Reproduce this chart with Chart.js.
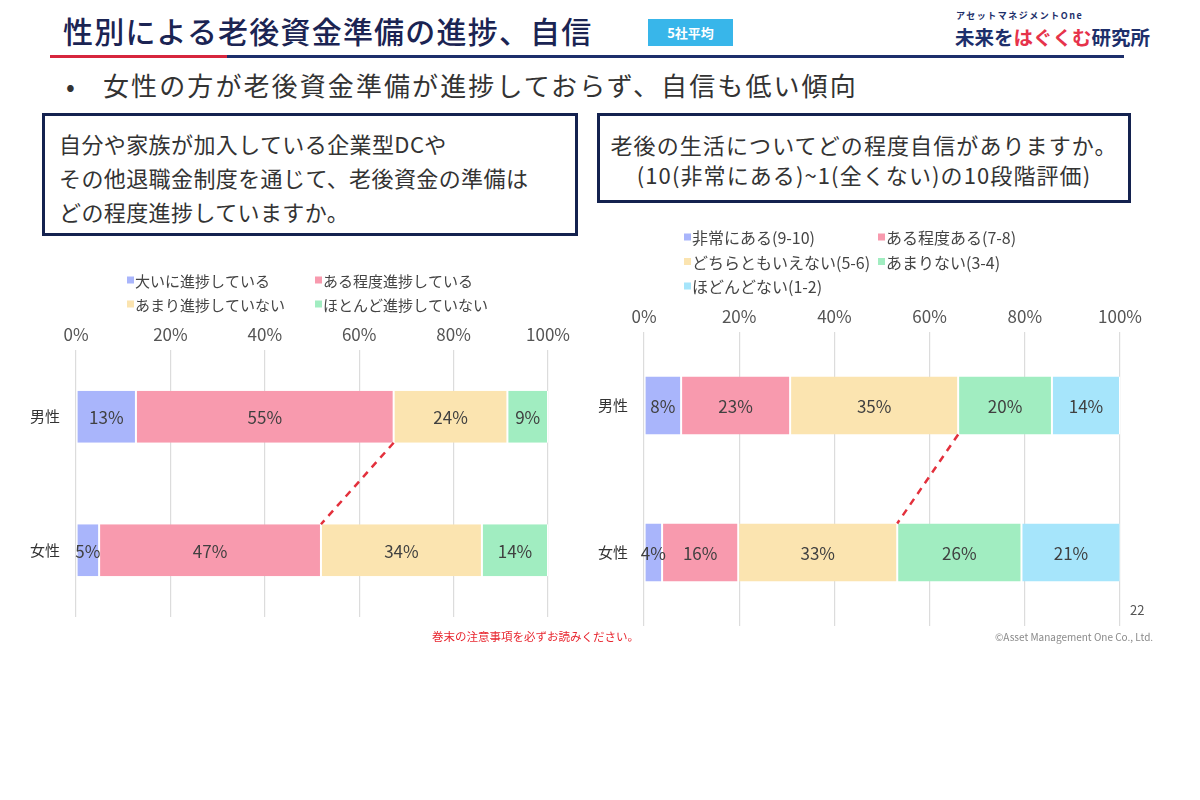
<!DOCTYPE html>
<html lang="ja">
<head>
<meta charset="utf-8">
<title>性別による老後資金準備の進捗、自信</title>
<script src="https://cdn.jsdelivr.net/npm/chart.js@4.4.1/dist/chart.umd.min.js"></script>
<style>
  html, body { margin: 0; padding: 0; background: #fff; }
  body { width: 1200px; height: 800px; position: relative; overflow: hidden;
         font-family: "Noto Sans CJK JP", "Noto Sans", sans-serif; color: #333; }
  .abs { position: absolute; white-space: nowrap; }
  #title { left: 63px; top: 8px; font-size: 30px; font-weight: 500; color: #1b2453; letter-spacing: 1.2px; }
  #badge { left: 648px; top: 19px; width: 85px; height: 27px; background: #38b6ea; color: #fff;
           font-size: 13px; font-weight: 700; line-height: 27px; text-align: center; }
  #lineRed { left: 50px; top: 55px; width: 177px; height: 3px; background: #d7263d; }
  #lineNavy { left: 227px; top: 55px; width: 897px; height: 3px; background: #1d2f6b; }
  #logoSmall { left: 956px; top: 9px; font-size: 9px; font-weight: 700; color: #1d2f6b; letter-spacing: 1.5px; }
  #logoBig { left: 955px; top: 22px; font-size: 19.5px; font-weight: 700; color: #1d2f6b; }
  #logoBig span { color: #e6334b; }
  #bullet { left: 66px; top: 66px; font-size: 26px; color: #333; }
  #subtitle { left: 103px; top: 66px; font-size: 26px; color: #333; letter-spacing: 2.1px; }
  .qbox { position: absolute; border: 3px solid #14224f; box-sizing: border-box; color: #333; }
  #box1 { left: 42px; top: 113px; width: 536px; height: 123px; padding: 10px 0 0 14px;
          font-size: 22px; line-height: 34px; letter-spacing: 0.4px; }
  #box2 { left: 597px; top: 113px; width: 534px; height: 90px; padding: 13px 0 0 0;
          font-size: 22px; line-height: 30px; text-align: center; letter-spacing: 1.1px; }
  #progressChart { left: 20px; top: 262px; }
  #confidenceChart { left: 595px; top: 222px; }
  #note { left: 432px; top: 628px; font-size: 11.5px; color: #e8262f; }
  #copy { left: 995px; top: 629px; font-size: 10px; color: #8a8a8a; }
  #page { left: 1130px; top: 600px; font-size: 13px; color: #555; }
</style>
</head>
<body>
<div id="title" class="abs">性別による老後資金準備の進捗、自信</div>
<div id="badge" class="abs">5社平均</div>
<div id="lineRed" class="abs"></div>
<div id="lineNavy" class="abs"></div>
<div id="logoSmall" class="abs">アセットマネジメントOne</div>
<div id="logoBig" class="abs">未来を<span>はぐくむ</span>研究所</div>
<div id="bullet" class="abs">•</div>
<div id="subtitle" class="abs">女性の方が老後資金準備が進捗しておらず、自信も低い傾向</div>

<div id="box1" class="qbox">自分や家族が加入している企業型DCや<br>その他退職金制度を通じて、老後資金の準備は<br>どの程度進捗していますか。</div>
<div id="box2" class="qbox">老後の生活についてどの程度自信がありますか。<br>(10(非常にある)~1(全くない)の10段階評価)</div>

<canvas id="progressChart" class="abs" width="570" height="372"></canvas>
<canvas id="confidenceChart" class="abs" width="580" height="421"></canvas>

<div id="note" class="abs">巻末の注意事項を必ずお読みください。</div>
<div id="copy" class="abs">©Asset Management One Co., Ltd.</div>
<div id="page" class="abs">22</div>

<script>
// ---- データ ----
const categories = ['男性', '女性'];
const xTicks = [0, 20, 40, 60, 80, 100];

// 老後資金準備の進捗 (%)
const progressLabels = ['大いに進捗している', 'ある程度進捗している', 'あまり進捗していない', 'ほとんど進捗していない'];
const progressMale = [12.7, 54.6, 24.1, 8.6];
const progressFemale = [4.9, 47.0, 34.1, 14.0];

// 老後の生活への自信 (%)
const confidenceLabels = ['非常にある(9-10)', 'ある程度ある(7-8)', 'どちらともいえない(5-6)', 'あまりない(3-4)', 'ほどんどない(1-2)'];
const confidenceMale = [7.8, 22.9, 35.3, 19.7, 14.3];
const confidenceFemale = [3.8, 16.0, 33.4, 26.1, 20.8];

const colors = ['#a9b5fb', '#f89aae', '#fbe4b0', '#a1edc1', '#a6e5fb'];
const FONT = '"Noto Sans CJK JP", "Noto Sans", sans-serif';

// ---- プラグイン ----
// バー内の数値ラベル
const valueLabels = {
    id: 'valueLabels',
    afterDatasetsDraw(chart) {
        const ctx = chart.ctx;
        ctx.save();
        ctx.font = '17px ' + FONT;
        ctx.fillStyle = '#404040';
        ctx.textAlign = 'center';
        ctx.textBaseline = 'middle';
        chart.data.datasets.forEach((ds, i) => {
            chart.getDatasetMeta(i).data.forEach((bar, j) => {
                const cx = (bar.x + bar.base) / 2;
                ctx.fillText(Math.round(ds.data[j]) + '%', cx, bar.y + 1);
            });
        });
        ctx.restore();
    }
};

// 男性と女性の累積位置を結ぶ赤い破線
const connector = {
    id: 'connector',
    afterDatasetsDraw(chart, args, opts) {
        const k = opts.afterIndex;
        if (k === undefined) return;
        const meta = chart.getDatasetMeta(k);
        const top = meta.data[0], bottom = meta.data[1];
        if (!top || !bottom) return;
        const x1 = top.x, y1 = top.y + top.height / 2;
        const x2 = bottom.x, y2 = bottom.y - bottom.height / 2;
        const ctx = chart.ctx;
        ctx.save();
        ctx.strokeStyle = '#e3303c';
        ctx.lineWidth = 2.5;
        ctx.setLineDash([7, 6]);
        ctx.beginPath();
        ctx.moveTo(x1, y1);
        ctx.lineTo(x2, y2);
        ctx.stroke();
        ctx.restore();
    }
};

// 列揃えの凡例
const gridLegend = {
    id: 'gridLegend',
    afterDraw(chart, args, opts) {
        const ctx = chart.ctx;
        ctx.save();
        ctx.font = opts.fontSize + 'px ' + FONT;
        ctx.textBaseline = 'middle';
        ctx.textAlign = 'left';
        chart.data.datasets.forEach((ds, i) => {
            const col = i % opts.cols, row = Math.floor(i / opts.cols);
            const x = opts.x + col * opts.colW;
            const y = opts.y + row * opts.rowH;
            ctx.fillStyle = ds.backgroundColor;
            ctx.fillRect(x, y - 3.5, 7, 7);
            ctx.fillStyle = '#444';
            ctx.fillText(ds.label, x + 8, y + 1);
        });
        ctx.restore();
    }
};

// ---- グラフ生成 ----
function makeChart(canvasId, labels, male, female, cfg) {
    const datasets = labels.map((label, i) => ({
        label: label,
        data: [male[i], female[i]],
        backgroundColor: colors[i],
        borderColor: '#ffffff',
        borderWidth: { left: 1, right: 1, top: 0, bottom: 0 },
        borderSkipped: false,
        barPercentage: cfg.barPct,
        categoryPercentage: 1
    }));

    return new Chart(document.getElementById(canvasId), {
        type: 'bar',
        data: { labels: categories, datasets: datasets },
        plugins: [valueLabels, connector, gridLegend],
        options: {
            indexAxis: 'y',
            responsive: false,
            animation: false,
            layout: { padding: { top: 0, bottom: 0, left: 0, right: cfg.padRight } },
            plugins: {
                legend: { display: false },
                tooltip: { enabled: false },
                connector: { afterIndex: cfg.connectAfter },
                gridLegend: cfg.legend
            },
            scales: {
                x: {
                    position: 'top',
                    stacked: true,
                    min: 0,
                    max: 100,
                    afterBuildTicks: (scale) => { scale.ticks = xTicks.map(v => ({ value: v })); },
                    afterFit: (scale) => { scale.height = cfg.axisTop; },
                    ticks: {
                        padding: 5,
                        color: '#555',
                        font: { family: FONT, size: 17 },
                        callback: (v) => v + '%'
                    },
                    grid: { color: '#dcdcdc', lineWidth: 1.2, drawTicks: false },
                    border: { display: false }
                },
                y: {
                    stacked: true,
                    afterFit: (scale) => { scale.width = cfg.axisLeft; },
                    ticks: {
                        padding: cfg.labelPad,
                        color: '#333',
                        font: { family: FONT, size: 15 }
                    },
                    grid: { display: false },
                    border: { display: false }
                }
            }
        }
    });
}

makeChart('progressChart', progressLabels, progressMale, progressFemale, {
    barPct: 0.39,
    padRight: 42,
    axisTop: 88,
    axisLeft: 56,
    labelPad: 8,
    connectAfter: 1,
    legend: { x: 107, y: 18, cols: 2, colW: 188, rowH: 24, fontSize: 15 }
});

makeChart('confidenceChart', confidenceLabels, confidenceMale, confidenceFemale, {
    barPct: 0.395,
    padRight: 55,
    axisTop: 110,
    axisLeft: 49,
    labelPad: 8,
    connectAfter: 2,
    legend: { x: 89, y: 15, cols: 2, colW: 194, rowH: 24.5, fontSize: 16 }
});
</script>
</body>
</html>
